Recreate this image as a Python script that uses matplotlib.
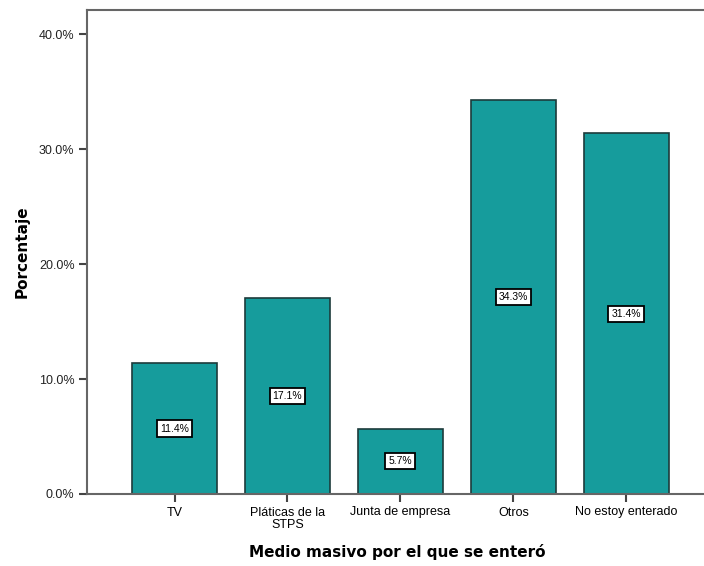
import matplotlib
matplotlib.use("Agg")
import matplotlib.pyplot as plt
from matplotlib.ticker import FuncFormatter

# Porcentaje de respuestas por medio masivo
categorias = ["TV", "Pláticas de la\nSTPS", "Junta de empresa", "Otros", "No estoy enterado"]
porcentajes = [11.4, 17.1, 5.7, 34.3, 31.4]
ticks_y = [0, 10, 20, 30, 40]

fig = plt.figure(figsize=(7.04, 5.66), dpi=100)
ax = fig.add_axes([87 / 704, 1 - 494 / 566, 1 - 87 / 704 + 0.01, 484 / 566])

x = range(len(categorias))
barras = ax.bar(x, porcentajes, width=0.75, color="#169c9c",
                edgecolor="#1d3b3b", linewidth=1.2)

# etiquetas de valor centradas en cada barra
for b, v in zip(barras, porcentajes):
    ax.text(b.get_x() + b.get_width() / 2, v / 2, f"{v:.1f}%",
            ha="center", va="center", fontsize=7.5, family="Liberation Sans",
            bbox=dict(boxstyle="square,pad=0.3", fc="white", ec="black", lw=1.3))

ax.set_xlim(-0.775, 4.75)
ax.set_ylim(0, 42.13)
ax.set_yticks(ticks_y)
ax.yaxis.set_major_formatter(FuncFormatter(lambda v, p: f"{v:.1f}%"))
ax.set_xticks(list(x))
ax.set_xticklabels(categorias, fontsize=9, family="Liberation Sans", linespacing=1.1)
for lab in ax.get_yticklabels():
    lab.set_fontsize(9)
    lab.set_family("Liberation Sans")
    lab.set_color("#222222")

for s in ["left", "top", "bottom"]:
    ax.spines[s].set_color("#666666")
    ax.spines[s].set_linewidth(1.5)
ax.spines["right"].set_visible(False)
ax.tick_params(axis="both", direction="out", length=6, width=1.5, color="#444444", pad=3)

ax.set_ylabel("Porcentaje", fontsize=11, fontweight="bold", labelpad=7)
fig.text(397 / 704, 1 - 552 / 566, "Medio masivo por el que se enteró",
         ha="center", va="center", fontsize=11, fontweight="bold")

fig.savefig("out.png", dpi=100)
